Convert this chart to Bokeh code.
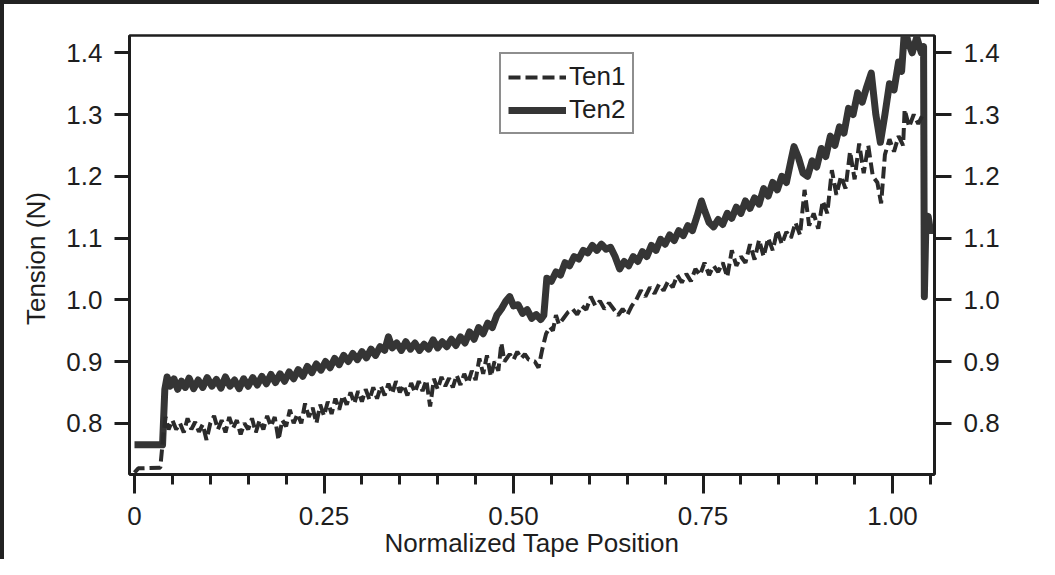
from bokeh.plotting import figure
from bokeh.models import LinearAxis, FixedTicker, Range1d, Legend, LegendItem, PrintfTickFormatter
from bokeh.embed import file_html
from bokeh.resources import INLINE

# ---- data ----
ten2_x = [0.000, 0.037, 0.040, 0.043, 0.047, 0.052, 0.057, 0.062, 0.067, 0.072, 0.078, 0.084, 0.090, 0.096,
          0.102, 0.108, 0.114, 0.120, 0.126, 0.132, 0.138, 0.144, 0.150, 0.156, 0.162, 0.168, 0.174, 0.180,
          0.186, 0.192, 0.198, 0.204, 0.210, 0.216, 0.222, 0.228, 0.234, 0.240, 0.246, 0.252, 0.258, 0.264,
          0.270, 0.276, 0.282, 0.288, 0.294, 0.300, 0.306, 0.312, 0.318, 0.324, 0.330, 0.335, 0.340, 0.346,
          0.352, 0.358, 0.364, 0.370, 0.376, 0.382, 0.388, 0.394, 0.400, 0.406, 0.412, 0.418, 0.424, 0.430,
          0.436, 0.442, 0.448, 0.454, 0.460, 0.466, 0.472, 0.478, 0.484, 0.490, 0.495, 0.500, 0.506, 0.512,
          0.518, 0.524, 0.530, 0.536, 0.540, 0.544, 0.550, 0.556, 0.562, 0.568, 0.574, 0.580, 0.586, 0.592,
          0.598, 0.604, 0.610, 0.616, 0.622, 0.628, 0.634, 0.640, 0.646, 0.652, 0.658, 0.664, 0.670, 0.676,
          0.682, 0.688, 0.694, 0.700, 0.706, 0.712, 0.718, 0.724, 0.730, 0.736, 0.742, 0.748, 0.752, 0.758,
          0.764, 0.770, 0.776, 0.782, 0.788, 0.794, 0.800, 0.806, 0.812, 0.818, 0.824, 0.830, 0.836, 0.842,
          0.848, 0.854, 0.860, 0.866, 0.870, 0.876, 0.882, 0.888, 0.894, 0.900, 0.906, 0.912, 0.918, 0.924,
          0.930, 0.936, 0.942, 0.948, 0.954, 0.960, 0.966, 0.972, 0.978, 0.984, 0.990, 0.996, 1.002, 1.008,
          1.012, 1.016, 1.020, 1.026, 1.032, 1.038, 1.041, 1.042, 1.044, 1.047, 1.050, 1.055]
ten2_y = [0.765, 0.765, 0.855, 0.875, 0.860, 0.872, 0.855, 0.868, 0.858, 0.873, 0.856, 0.870, 0.858, 0.874,
          0.860, 0.871, 0.857, 0.875, 0.860, 0.870, 0.856, 0.872, 0.860, 0.874, 0.862, 0.876, 0.864, 0.879,
          0.866, 0.880, 0.868, 0.883, 0.872, 0.887, 0.876, 0.892, 0.882, 0.896, 0.886, 0.900, 0.890, 0.905,
          0.895, 0.910, 0.900, 0.913, 0.903, 0.916, 0.906, 0.920, 0.910, 0.924, 0.918, 0.940, 0.922, 0.930,
          0.918, 0.932, 0.920, 0.930, 0.918, 0.928, 0.920, 0.935, 0.922, 0.932, 0.924, 0.936, 0.926, 0.940,
          0.930, 0.948, 0.936, 0.955, 0.945, 0.962, 0.955, 0.975, 0.985, 0.998, 1.005, 0.990, 0.992, 0.978,
          0.984, 0.970, 0.976, 0.968, 0.975, 1.035, 1.030, 1.045, 1.040, 1.060, 1.055, 1.070, 1.066, 1.080,
          1.076, 1.088, 1.080, 1.090, 1.082, 1.085, 1.070, 1.050, 1.062, 1.055, 1.070, 1.062, 1.078, 1.070,
          1.088, 1.080, 1.098, 1.090, 1.105, 1.096, 1.112, 1.104, 1.120, 1.112, 1.135, 1.160, 1.145, 1.125,
          1.118, 1.130, 1.122, 1.140, 1.132, 1.150, 1.140, 1.160, 1.148, 1.165, 1.155, 1.180, 1.168, 1.190,
          1.178, 1.200, 1.190, 1.225, 1.248, 1.230, 1.205, 1.200, 1.225, 1.215, 1.245, 1.232, 1.265, 1.250,
          1.280, 1.270, 1.310, 1.300, 1.335, 1.320, 1.345, 1.367, 1.300, 1.255, 1.300, 1.350, 1.340, 1.385,
          1.370, 1.440, 1.420, 1.400, 1.425, 1.400, 1.410, 1.005, 1.120, 1.135, 1.112, 1.112]

ten1_x = [0.000, 0.005, 0.034, 0.038, 0.041, 0.045, 0.050, 0.055, 0.060, 0.065, 0.070, 0.075, 0.080, 0.085,
          0.090, 0.095, 0.100, 0.105, 0.110, 0.115, 0.120, 0.125, 0.130, 0.135, 0.140, 0.145, 0.150, 0.155,
          0.160, 0.165, 0.170, 0.175, 0.180, 0.185, 0.190, 0.195, 0.200, 0.205, 0.210, 0.215, 0.220, 0.225,
          0.230, 0.235, 0.240, 0.245, 0.250, 0.255, 0.260, 0.265, 0.270, 0.275, 0.280, 0.285, 0.290, 0.295,
          0.300, 0.305, 0.310, 0.315, 0.320, 0.325, 0.330, 0.335, 0.340, 0.345, 0.350, 0.355, 0.360, 0.365,
          0.370, 0.375, 0.380, 0.385, 0.390, 0.395, 0.400, 0.405, 0.410, 0.415, 0.420, 0.425, 0.430, 0.435,
          0.440, 0.445, 0.450, 0.455, 0.460, 0.465, 0.470, 0.475, 0.480, 0.484, 0.488, 0.495, 0.500, 0.505,
          0.510, 0.515, 0.520, 0.528, 0.533, 0.538, 0.543, 0.548, 0.552, 0.556, 0.560, 0.566, 0.572, 0.578,
          0.584, 0.590, 0.596, 0.602, 0.608, 0.614, 0.620, 0.626, 0.632, 0.638, 0.644, 0.650, 0.656, 0.662,
          0.668, 0.674, 0.680, 0.686, 0.692, 0.698, 0.704, 0.710, 0.716, 0.722, 0.728, 0.734, 0.740, 0.746,
          0.752, 0.758, 0.764, 0.770, 0.776, 0.782, 0.788, 0.794, 0.800, 0.806, 0.812, 0.818, 0.824, 0.830,
          0.836, 0.842, 0.848, 0.854, 0.860, 0.866, 0.872, 0.878, 0.884, 0.890, 0.896, 0.902, 0.908, 0.914,
          0.920, 0.926, 0.932, 0.938, 0.944, 0.950, 0.956, 0.962, 0.968, 0.974, 0.980, 0.985, 0.990, 0.996,
          1.002, 1.008, 1.014, 1.016, 1.022, 1.028, 1.034, 1.040]
ten1_y = [0.720, 0.727, 0.728, 0.780, 0.810, 0.790, 0.805, 0.790, 0.800, 0.785, 0.808, 0.790, 0.802, 0.786,
          0.798, 0.773, 0.800, 0.812, 0.790, 0.805, 0.785, 0.810, 0.792, 0.805, 0.782, 0.800, 0.790, 0.808,
          0.785, 0.805, 0.790, 0.812, 0.795, 0.810, 0.773, 0.805, 0.795, 0.822, 0.800, 0.815, 0.800, 0.832,
          0.810, 0.825, 0.800, 0.830, 0.812, 0.835, 0.815, 0.840, 0.822, 0.845, 0.830, 0.850, 0.832, 0.852,
          0.835, 0.855, 0.838, 0.858, 0.840, 0.860, 0.845, 0.864, 0.848, 0.868, 0.850, 0.862, 0.845, 0.865,
          0.850, 0.868, 0.852, 0.870, 0.827, 0.872, 0.855, 0.875, 0.860, 0.873, 0.858, 0.878, 0.862, 0.880,
          0.865, 0.885, 0.870, 0.905, 0.880, 0.910, 0.876, 0.900, 0.885, 0.930, 0.900, 0.912, 0.903, 0.916,
          0.905, 0.912, 0.903, 0.900, 0.890, 0.920, 0.945, 0.956, 0.950, 0.975, 0.960, 0.970, 0.980, 0.985,
          0.976, 0.990, 0.984, 1.005, 0.990, 0.998, 0.985, 0.995, 0.985, 0.975, 0.985, 0.975, 0.990, 1.000,
          1.015, 1.005, 1.020, 1.010, 1.025, 1.015, 1.030, 1.020, 1.040, 1.028, 1.042, 1.030, 1.050, 1.040,
          1.060, 1.040, 1.055, 1.045, 1.060, 1.037, 1.080, 1.055, 1.070, 1.060, 1.090, 1.065, 1.097, 1.070,
          1.100, 1.080, 1.113, 1.090, 1.110, 1.100, 1.125, 1.105, 1.178, 1.120, 1.140, 1.115, 1.160, 1.140,
          1.210, 1.170, 1.200, 1.180, 1.240, 1.195, 1.253, 1.205, 1.250, 1.200, 1.190, 1.156, 1.235, 1.260,
          1.240, 1.265, 1.250, 1.308, 1.280, 1.300, 1.285, 1.300]

x_major = [0, 0.25, 0.5, 0.75, 1.0]
x_major_labels = ["0", "0.25", "0.50", "0.75", "1.00"]
x_minor = [0.05, 0.10, 0.15, 0.20, 0.30, 0.35, 0.40, 0.45, 0.55, 0.60, 0.65, 0.70, 0.80, 0.85, 0.90, 0.95, 1.05]
y_major = [0.8, 0.9, 1.0, 1.1, 1.2, 1.3, 1.4]

FONT = "Liberation Sans"
INK = "#1e1e1e"

p = figure(width=1039, height=559, output_backend="svg", toolbar_location=None,
           x_range=Range1d(-0.0066, 1.0554), y_range=Range1d(0.717, 1.428),
           min_border_left=125, min_border_right=109, min_border_top=31, min_border_bottom=89,
           background_fill_color="white", border_fill_color="white")
p.grid.visible = False
p.outline_line_color = INK
p.outline_line_width = 2.5

r2 = p.line(ten2_x, ten2_y, line_color="#353535", line_width=7, line_join="round")
r1 = p.line(ten1_x, ten1_y, line_color="#2b2b2b", line_width=4, line_dash="12 5")

def style_axis(ax):
    ax.axis_line_color = INK
    ax.axis_line_width = 3
    ax.major_tick_line_color = INK
    ax.major_tick_line_width = 3
    ax.minor_tick_line_color = INK
    ax.minor_tick_line_width = 3
    ax.major_tick_in = 0
    ax.minor_tick_in = 0
    ax.major_label_text_font = FONT
    ax.major_label_text_font_size = "26px"
    ax.major_label_text_color = INK
    ax.axis_label_text_font = FONT
    ax.axis_label_text_font_size = "26px"
    ax.axis_label_text_font_style = "normal"
    ax.axis_label_text_color = INK

xa = p.xaxis[0]
style_axis(xa)
xa.ticker = FixedTicker(ticks=x_major, minor_ticks=x_minor)
xa.major_label_overrides = {t: l for t, l in zip(x_major, x_major_labels)}
xa.major_tick_out = 19
xa.minor_tick_out = 10
xa.major_label_standoff = 13
xa.axis_label = "Normalized Tape Position"
xa.axis_label_standoff = 0

ya = p.yaxis[0]
style_axis(ya)
ya.ticker = FixedTicker(ticks=y_major, minor_ticks=[])
ya.formatter = PrintfTickFormatter(format="%.1f")
ya.major_tick_out = 15
ya.minor_tick_out = 0
ya.major_label_standoff = 12
ya.axis_label = "Tension  (N)"
ya.axis_label_standoff = 12

yr = LinearAxis()
style_axis(yr)
yr.ticker = FixedTicker(ticks=y_major, minor_ticks=[])
yr.formatter = PrintfTickFormatter(format="%.1f")
yr.major_tick_out = 17
yr.minor_tick_out = 0
yr.major_label_standoff = 12
p.add_layout(yr, "right")

legend = Legend(items=[LegendItem(label="Ten1", renderers=[r1]),
                       LegendItem(label="Ten2", renderers=[r2])],
                location=(370, 340))
legend.label_text_font = FONT
legend.label_text_font_size = "26px"
legend.label_text_color = INK
legend.border_line_color = INK
legend.border_line_width = 2.5
legend.glyph_width = 58
legend.glyph_height = 30
legend.label_height = 30
legend.label_standoff = 3
legend.spacing = 2
legend.padding = 7
legend.margin = 0
p.add_layout(legend, "center")

p.styles = {"border-top": "4px solid #222", "border-left": "4px solid #222"}

open("out.html", "w").write(file_html(p, INLINE))
